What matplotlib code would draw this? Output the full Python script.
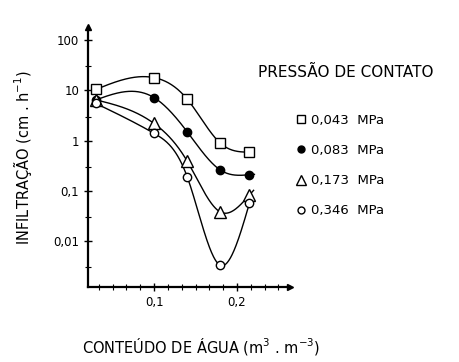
import numpy as np
import matplotlib
matplotlib.use("Agg")
import matplotlib.pyplot as plt
from matplotlib.lines import Line2D
from matplotlib.ticker import FixedLocator, MultipleLocator

# water content (m3/m3)
agua = [0.03, 0.10, 0.14, 0.18, 0.215]

# infiltration (cm/h) per contact pressure
inf_043 = [10.5, 18.0, 6.7, 0.89, 0.59]
inf_083 = [6.5, 7.2, 1.5, 0.26, 0.21]
inf_173 = [6.5, 2.2, 0.39, 0.038, 0.083]
inf_346 = [5.5, 1.4, 0.19, 0.0033, 0.057]

rotulos = ["0,043  MPa", "0,083  MPa", "0,173  MPa", "0,346  MPa"]


def natural_spline(x, y, xs):
    """Natural cubic spline through (x, y), evaluated at xs (extrapolates last segment)."""
    x = np.asarray(x, float)
    y = np.asarray(y, float)
    n = len(x)
    h = np.diff(x)
    A = np.zeros((n, n))
    b = np.zeros(n)
    A[0, 0] = A[-1, -1] = 1.0
    for i in range(1, n - 1):
        A[i, i - 1] = h[i - 1]
        A[i, i] = 2 * (h[i - 1] + h[i])
        A[i, i + 1] = h[i]
        b[i] = 6 * ((y[i + 1] - y[i]) / h[i] - (y[i] - y[i - 1]) / h[i - 1])
    M = np.linalg.solve(A, b)
    idx = np.clip(np.searchsorted(x, xs) - 1, 0, n - 2)
    x0, x1 = x[idx], x[idx + 1]
    hh = x1 - x0
    t0, t1 = x1 - xs, xs - x0
    return (M[idx] * t0**3 / (6 * hh) + M[idx + 1] * t1**3 / (6 * hh)
            + (y[idx] / hh - M[idx] * hh / 6) * t0
            + (y[idx + 1] / hh - M[idx + 1] * hh / 6) * t1)


fig = plt.figure(figsize=(4.59, 3.62), dpi=100)
ax = fig.add_axes([0.192, 0.207, 0.44, 0.718])

series = [
    (inf_043, dict(marker="s", ms=7, mfc="white", mec="black"), 0.0),
    (inf_083, dict(marker="o", ms=6, mfc="black", mec="black"), 0.006),
    (inf_173, dict(marker="^", ms=8, mfc="white", mec="black"), 0.005),
    (inf_346, dict(marker="o", ms=6, mfc="white", mec="black"), 0.0),
]

for vals, style, tail in series:
    xs = np.linspace(agua[0], agua[-1] + tail, 300)
    ys = 10 ** natural_spline(agua, np.log10(vals), xs)
    ax.plot(xs, ys, color="black", lw=1.0, zorder=2)
    ax.plot(agua, vals, ls="none", mew=1.0, zorder=3, **style)

ax.set_yscale("log")
ax.set_xlim(0.0205, 0.264)
ax.set_ylim(0.00122, 182)

ax.yaxis.set_major_locator(FixedLocator([100, 10, 1, 0.1, 0.01]))
ax.set_yticklabels(["100", "10", "1", "0,1", "0,01"])
ax.yaxis.set_minor_locator(FixedLocator([300 / 10**k for k in range(1, 7)]))
ax.yaxis.set_minor_formatter(plt.NullFormatter())
ax.set_xticks([0.1, 0.2])
ax.set_xticklabels(["0,1", "0,2"])
ax.xaxis.set_minor_locator(MultipleLocator(0.1 / 6))

ax.tick_params(which="both", direction="inout", color="black", labelsize=8.5)
ax.tick_params(which="major", length=6, width=1)
ax.tick_params(which="minor", length=4, width=0.8)

for s in ["top", "right"]:
    ax.spines[s].set_visible(False)
for s in ["left", "bottom"]:
    ax.spines[s].set_linewidth(1.6)

# arrow heads on the axes
ax.plot(1, 0, ">", color="black", ms=5, transform=ax.transAxes, clip_on=False)
ax.plot(0, 1, "^", color="black", ms=5, transform=ax.transAxes, clip_on=False)

fig.text(0.05, 0.566, "INFILTRAÇÃO (cm . h$^{-1}$)", rotation=90,
         ha="center", va="center", fontsize=10.5)
fig.text(0.438, 0.044, "CONTEÚDO DE ÁGUA (m$^3$ . m$^{-3}$)",
         ha="center", va="center", fontsize=10.5)

handles = [Line2D([], [], ls="none", mew=1.0, **st) for _, st, _ in series]
for h, (_, st, _) in zip(handles, series):
    h.set_markersize(st["ms"] - 1)
leg = fig.legend(handles, rotulos, loc="upper left",
                 bbox_to_anchor=(0.615, 0.718), frameon=False,
                 fontsize=9.5, handletextpad=0.3, labelspacing=1.3,
                 handlelength=1.0)
fig.text(0.562, 0.8, "PRESSÃO DE CONTATO", fontsize=11, ha="left", va="center")

fig.savefig("out.png", dpi=100)
plt.close(fig)
